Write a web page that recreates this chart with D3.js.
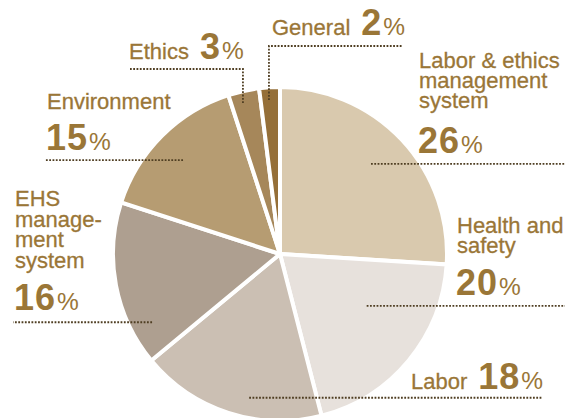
<!DOCTYPE html>
<html>
<head>
<meta charset="utf-8">
<script src="https://cdn.jsdelivr.net/npm/d3@7/dist/d3.min.js"></script>
<style>
  html, body { margin: 0; padding: 0; background: #fff; }
  svg { display: block; }
  text { font-family: "Liberation Sans", Arial, Helvetica, sans-serif; fill: #9a7637; }
  .name { stroke: #9a7637; stroke-width: 0.3px; }
  .num { font-size: 36px; font-weight: bold; letter-spacing: 1px; }
  .pct { font-size: 24.5px; }
</style>
</head>
<body>
<svg id="chart" width="565" height="418"></svg>
<script>
// Share of findings by audit area (percent), clockwise from 12 o'clock
const categories = ["Labor & ethics management system", "Health and safety", "Labor",
                    "EHS management system", "Environment", "Ethics", "General"];
const values = [26, 20, 18, 16, 15, 3, 2];
const labelLines = [
  ["Labor & ethics", "management", "system"],
  ["Health and", "safety"],
  ["Labor"],
  ["EHS", "manage-", "ment", "system"],
  ["Environment"],
  ["Ethics"],
  ["General"]
];
const sliceColors = ["#d9c9ae", "#e7e1dc", "#cbbfb3", "#ae9f90", "#b69c72", "#a6875a", "#956f38"];

// Label placement: x, first baseline, line spacing, baseline of the big number (null = inline)
const labelLayout = [
  { x: 419, y: 68,  lh: 20,   numY: 153 },
  { x: 457, y: 233, lh: 20,   numY: 295 },
  { x: 411, y: 389, lh: 20,   numY: null },
  { x: 15,  y: 206, lh: 20.7, numY: 310 },
  { x: 47,  y: 109, lh: 20,   numY: 150 },
  { x: 129, y: 59,  lh: 20,   numY: null },
  { x: 272, y: 35,  lh: 20,   numY: null }
];
// Leader lines: anchor inside the slice (fraction of slice angle, radius),
// optional vertical run up to elbowY, then horizontal run to endX
const leaderLayout = [
  { t: 0.484, r: 128,   elbowY: null, endX: 565 },
  { t: 0.379, r: 101,   elbowY: null, endX: 565 },
  { t: 0.409, r: 147,   elbowY: null, endX: 542 },
  { t: 0.200, r: 145,   elbowY: null, endX: 13 },
  { t: 0.483, r: 135,   elbowY: null, endX: 45 },
  { t: 0.390, r: 155.5, elbowY: 69,   endX: 130 },
  { t: 0.430, r: 154.4, elbowY: 46,   endX: 403 }
];

const cx = 280, cy = 254, radius = 167;
const svg = d3.select("#chart");

const pie = d3.pie().sort(null).value(d => d)(values);
const arc = d3.arc().innerRadius(0).outerRadius(radius);

const g = svg.append("g").attr("transform", `translate(${cx},${cy})`);
g.selectAll("path.slice")
  .data(pie)
  .join("path")
  .attr("class", "slice")
  .attr("d", arc)
  .attr("fill", (d, i) => sliceColors[i])
  .attr("stroke", "#fff")
  .attr("stroke-width", 4)
  .attr("stroke-linejoin", "miter");

// Dotted leader lines
const leaders = svg.append("g");
pie.forEach((d, i) => {
  const L = leaderLayout[i];
  const a = d.startAngle + L.t * (d.endAngle - d.startAngle);
  const px = cx + L.r * Math.sin(a);
  const py = cy - L.r * Math.cos(a);
  const pts = [[px, py]];
  if (L.elbowY !== null) {
    pts.push([px, L.elbowY]);
    pts.push([L.endX, L.elbowY]);
  } else {
    pts.push([L.endX, py]);
  }
  leaders.append("path")
    .attr("d", d3.line()(pts))
    .attr("fill", "none")
    .attr("stroke", "#4f3e22")
    .attr("stroke-width", 1.8)
    .attr("stroke-dasharray", "1.8 1.5");
});

// Labels: one text element per line, plus the percentage
const labels = svg.append("g");
pie.forEach((d, i) => {
  const L = labelLayout[i];
  const lines = labelLines[i];
  lines.forEach((ln, k) => {
    const t = labels.append("text")
      .attr("x", L.x)
      .attr("y", L.y + k * L.lh);
    t.append("tspan").attr("class", "name").style("font-size", "22px").text(ln);
    if (L.numY === null && k === lines.length - 1) {
      t.append("tspan").attr("class", "num").attr("dx", 11).text(d.data);
      t.append("tspan").attr("class", "pct").attr("dx", 1).text("%");
    }
  });
  if (L.numY !== null) {
    const t = labels.append("text").attr("x", L.x - 1).attr("y", L.numY);
    t.append("tspan").attr("class", "num").text(d.data);
    t.append("tspan").attr("class", "pct").attr("dx", 1).text("%");
  }
});
</script>
</body>
</html>
